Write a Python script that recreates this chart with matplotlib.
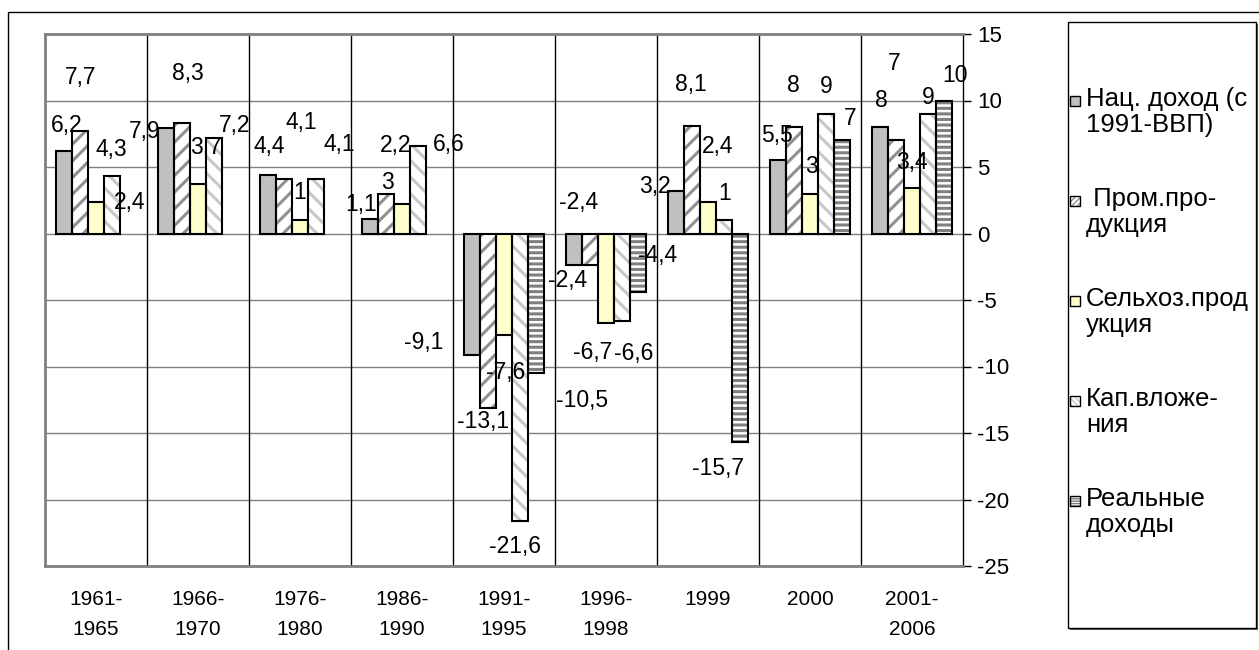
import numpy as np
import matplotlib
matplotlib.use("Agg")
from matplotlib import pyplot as plt
from matplotlib.patches import Rectangle

plt.rcParams['font.family'] = ['Liberation Sans', 'DejaVu Sans']
plt.rcParams['hatch.linewidth'] = 2.2
plt.rcParams['axes.unicode_minus'] = False

periods = ['1961-\n1965', '1966-\n1970', '1976-\n1980', '1986-\n1990', '1991-\n1995',
           '1996-\n1998', '1999', '2000', '2001-\n2006']
nat_income = [6.2, 7.9, 4.4, 1.1, -9.1, -2.4, 3.2, 5.5, 8]
industry = [7.7, 8.3, 4.1, 3, -13.1, -2.4, 8.1, 8, 7]
agriculture = [2.4, 3.7, 1, 2.2, -7.6, -6.7, 2.4, 3, 3.4]
investment = [4.3, 7.2, 4.1, 6.6, -21.6, -6.6, 1, 9, 9]
real_income = [None, None, None, None, -10.5, -4.4, -15.7, 7, 10]

series_names = ['Нац. доход (с\n1991-ВВП)', ' Пром.про-\nдукция', 'Сельхоз.прод\nукция',
                'Кап.вложе-\nния', 'Реальные\nдоходы']

# label offsets from the bar end, in pixels (dx right, dy down)
label_offsets = [
    [(2, -26), (-22, 3), (1, -28), (-9, -14), (-49, -12), (4, -63), (-21, -4), (-1, -25), (1, -27)],
    [(0, -54), (6, -50), (17, -56), (1, -11), (-5, 14), (-23, 15), (-1, -41), (-1, -42), (-2, -77)],
    [(34, 1), (8, -37), (0, -28), (-6, -59), (2, 38), (-13, 30), (10, -55), (1, -27), (0, -26)],
    [(0, -27), (21, -12), (24, -34), (31, -1), (-5, 26), (12, 32), (1, -27), (0, -27), (0, -16)],
    [None, None, None, None, (46, 27), (20, -37), (-22, 26), (9, -22), (11, -25)],
]

styles = [
    dict(face='#C0C0C0', hatch=None, hcolor=None, mhatch=None),
    dict(face='white', hatch='//', hcolor='#909090', mhatch='//////'),
    dict(face='#FFFFCC', hatch=None, hcolor=None, mhatch=None),
    dict(face='white', hatch='\\\\', hcolor='#C8C8C8', mhatch='\\\\\\\\\\\\'),
    dict(face='white', hatch='---', hcolor='#808080', mhatch='-------'),
]

W, H = 1259, 650
fig = plt.figure(figsize=(W / 100, H / 100), dpi=100)
ax = fig.add_axes([45 / W, 84 / H, 918 / W, 532 / H])

all_series = [nat_income, industry, agriculture, investment, real_income]
x = np.arange(len(periods))
bw = 0.155

for i, vals in enumerate(all_series):
    idx = [k for k, v in enumerate(vals) if v is not None]
    xs = x[idx] + (i - 2) * bw
    hs = [vals[k] for k in idx]
    st = styles[i]
    if st['hatch']:
        ax.bar(xs, hs, bw, color=st['face'], edgecolor=st['hcolor'], linewidth=0,
               hatch=st['hatch'], zorder=3)
    else:
        ax.bar(xs, hs, bw, color=st['face'], linewidth=0, zorder=3)
    ax.bar(xs, hs, bw, facecolor='none', edgecolor='black', linewidth=1.5, zorder=4)
    for k in idx:
        v = vals[k]
        dx, dy = label_offsets[i][k]
        txt = ('%g' % v).replace('.', ',')
        ax.annotate(txt, (x[k] + (i - 2) * bw, v), xytext=(dx, -dy),
                    textcoords='offset pixels', ha='center', va='center',
                    fontsize=16.5, zorder=5, annotation_clip=False)

ax.set_xlim(-0.5, 8.5)
ax.set_ylim(-25, 15)
ax.vlines(np.arange(0.5, 8.5), -25, 15, color='black', linewidth=1, zorder=1)
ax.set_yticks(range(-25, 16, 5))
ax.yaxis.tick_right()
ax.yaxis.grid(True, color='#808080', linewidth=1)
ax.set_axisbelow(True)
ax.tick_params(axis='y', direction='out', length=6, width=1, pad=4, labelsize=16)
ax.set_xticks(x)
ax.set_xticklabels(periods, fontsize=15, linespacing=1.75)
ax.tick_params(axis='x', length=0, pad=17)
for s in ['left', 'top', 'bottom']:
    ax.spines[s].set_color('#808080')
    ax.spines[s].set_linewidth(2)
ax.spines['right'].set_color('black')
ax.spines['right'].set_linewidth(1)

# outer chart frame
fig.add_artist(Rectangle((8 / W, -0.1), 1.2, 1 - 12 / H + 0.1, transform=fig.transFigure,
                         facecolor='none', edgecolor='black', linewidth=1))

# legend box
fig.add_artist(Rectangle((1070 / W, (H - 630) / H), 188 / W, 606 / H, transform=fig.transFigure,
                         facecolor='#606060', edgecolor='none', zorder=1))
fig.add_artist(Rectangle((1068 / W, (H - 628) / H), 188 / W, 606 / H, transform=fig.transFigure,
                         facecolor='white', edgecolor='black', linewidth=1, zorder=2))
plt.rcParams['hatch.linewidth'] = 1.0
for i, name in enumerate(series_names):
    yc = 101 + i * 100
    st = styles[i]
    fig.add_artist(Rectangle((1070 / W, (H - yc - 5) / H), 10 / W, 10 / H,
                             transform=fig.transFigure, facecolor=st['face'],
                             edgecolor=st['hcolor'] or 'black', linewidth=0,
                             hatch=st['mhatch'], zorder=3))
    fig.add_artist(Rectangle((1070 / W, (H - yc - 5) / H), 10 / W, 10 / H,
                             transform=fig.transFigure, facecolor='none',
                             edgecolor='black', linewidth=1, zorder=4))
    fig.text(1086 / W, (H - yc + 14) / H, name, ha='left', va='top', fontsize=18.5,
             linespacing=1.1, zorder=5)

fig.savefig('out.png', dpi=100)
